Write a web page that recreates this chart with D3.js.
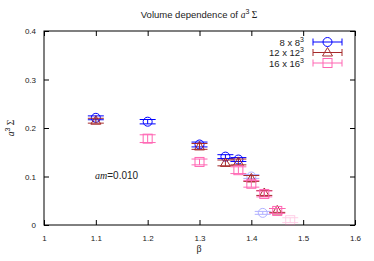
<!DOCTYPE html>
<html><head><meta charset="utf-8">
<script src="https://cdn.jsdelivr.net/npm/d3@7"></script>
<style>body{margin:0;background:#fff}svg{font-family:"Liberation Sans",Arial,sans-serif}</style>
</head><body><svg id="c" width="374" height="261"></svg>
<script>
const xTicks = [1, 1.1, 1.2, 1.3, 1.4, 1.5, 1.6];
const yTicks = [0, 0.1, 0.2, 0.3, 0.4];
const seriesNames = ["8 x 8", "12 x 12", "16 x 16"];
const seriesColors = ["#0000ff", "#a52a2a", "#ff66b3"];
const seriesShapes = ["circle", "triangle", "square"];
// 8x8^3
const beta8 = [1.1, 1.2, 1.3, 1.35, 1.375, 1.4, 1.422];
const val8  = [0.221, 0.213, 0.166, 0.141, 0.135, 0.100, 0.025];
const err8  = [0.004, 0.0045, 0.005, 0.004, 0.004, 0.004, 0.003];
const faint8 = [0, 0, 0, 0, 0, 1, 1];
// 12x12^3
const beta12 = [1.1, 1.3, 1.35, 1.375, 1.4, 1.425, 1.45];
const val12  = [0.215, 0.162, 0.128, 0.130, 0.096, 0.066, 0.030];
const err12  = [0.005, 0.006, 0.006, 0.006, 0.006, 0.005, 0.004];
const faint12 = [0, 0, 0, 0, 0, 0, 0];
// 16x16^3
const beta16 = [1.2, 1.3, 1.375, 1.4, 1.425, 1.45, 1.475];
const val16  = [0.178, 0.130, 0.113, 0.085, 0.064, 0.029, 0.010];
const err16  = [0.008, 0.006, 0.007, 0.007, 0.006, 0.005, 0.005];
const faint16 = [0, 0, 0, 0, 0, 0, 1];

const series = [
  {b: beta8, v: val8, e: err8, f: faint8},
  {b: beta12, v: val12, e: err12, f: faint12},
  {b: beta16, v: val16, e: err16, f: faint16}
];

const svg = d3.select("#c");
const L = 44, R = 355, T = 31, B = 225;
const x = d3.scaleLinear().domain([1, 1.6]).range([L, R]);
const y = d3.scaleLinear().domain([0, 0.4]).range([B, T]);

svg.append("rect").attr("x", L).attr("y", T).attr("width", R - L).attr("height", B - T)
  .attr("fill", "none").attr("stroke", "#000").attr("stroke-width", 1);

const gx = svg.append("g").attr("transform", `translate(0,${B})`)
  .call(d3.axisBottom(x).tickValues(xTicks).tickSize(-5).tickPadding(10).tickFormat(d3.format("")));
const gxt = svg.append("g").attr("transform", `translate(0,${T})`)
  .call(d3.axisTop(x).tickValues(xTicks).tickSize(-5).tickFormat(""));
const gy = svg.append("g").attr("transform", `translate(${L},0)`)
  .call(d3.axisLeft(y).tickValues(yTicks).tickSize(-5).tickPadding(8).tickFormat(d => d === 0 ? "0" : d3.format(".1f")(d)));
const gyr = svg.append("g").attr("transform", `translate(${R},0)`)
  .call(d3.axisRight(y).tickValues(yTicks).tickSize(-5).tickFormat(""));
[gx, gxt, gy, gyr].forEach(g => {
  g.select(".domain").remove();
  g.selectAll("text").attr("font-size", 8).attr("fill", "#222").attr("font-family", "Liberation Sans, Arial, sans-serif");
  g.selectAll("line").attr("stroke", "#000");
});

function marker(g, shape, cx, cy, color) {
  if (shape === "circle") {
    g.append("circle").attr("cx", cx).attr("cy", cy).attr("r", 4.5).attr("fill", "none").attr("stroke", color);
  } else if (shape === "triangle") {
    const h = 5;
    g.append("path").attr("d", `M${cx},${cy - h}L${cx + h},${cy + h * 0.7}L${cx - h},${cy + h * 0.7}Z`)
      .attr("fill", "none").attr("stroke", color);
  } else {
    g.append("rect").attr("x", cx - 4.5).attr("y", cy - 4.5).attr("width", 9).attr("height", 9)
      .attr("fill", "none").attr("stroke", color);
  }
}

const plot = svg.append("g");
series.forEach((s, i) => {
  const col = seriesColors[i];
  s.b.forEach((b, j) => {
    const g = plot.append("g").attr("opacity", s.f[j] ? 0.3 : 1).attr("stroke-width", 1);
    const cx = x(b), y0 = y(s.v[j] - s.e[j]), y1 = y(s.v[j] + s.e[j]);
    g.append("line").attr("x1", cx).attr("x2", cx).attr("y1", y0).attr("y2", y1).attr("stroke", col);
    [y0, y1].forEach(yy => g.append("line").attr("x1", cx - 8).attr("x2", cx + 8).attr("y1", yy).attr("y2", yy).attr("stroke", col));
    marker(g, seriesShapes[i], cx, y(s.v[j]), col);
  });
});

const legY = [42, 52.5, 63];
seriesNames.forEach((n, i) => {
  const t = svg.append("text").attr("x", 304).attr("y", legY[i] + 3.5).attr("text-anchor", "end")
    .attr("font-size", 9.5).attr("fill", "#222");
  t.append("tspan").text(n);
  t.append("tspan").text("3").attr("font-size", 7).attr("dy", -4);
  const col = seriesColors[i];
  const g = svg.append("g");
  g.append("line").attr("x1", 313).attr("x2", 342).attr("y1", legY[i]).attr("y2", legY[i]).attr("stroke", col);
  [313, 342].forEach(xx => g.append("line").attr("x1", xx).attr("x2", xx).attr("y1", legY[i] - 3.5).attr("y2", legY[i] + 3.5).attr("stroke", col));
  marker(g, seriesShapes[i], 327.5, legY[i], col);
});

const title = svg.append("text").attr("x", 199).attr("y", 18).attr("text-anchor", "middle").attr("font-size", 9.5).attr("fill", "#222");
title.append("tspan").text("Volume dependence of ");
title.append("tspan").text("a").attr("font-style", "italic").attr("font-family", "Liberation Serif, serif");
title.append("tspan").text("3").attr("font-size", 7).attr("dy", -4);
title.append("tspan").text(" Σ").attr("dy", 4).attr("font-family", "Liberation Serif, serif");

const yl = svg.append("text").attr("transform", "translate(14,128) rotate(-90)").attr("text-anchor", "middle")
  .attr("font-size", 9.5).attr("fill", "#222");
yl.append("tspan").text("a").attr("font-style", "italic").attr("font-family", "Liberation Serif, serif");
yl.append("tspan").text("3").attr("font-size", 7).attr("dy", -4);
yl.append("tspan").text(" Σ").attr("dy", 4).attr("font-family", "Liberation Serif, serif");

svg.append("text").attr("x", 199).attr("y", 252).attr("text-anchor", "middle").attr("font-size", 10)
  .attr("fill", "#222").attr("font-family", "Liberation Serif, serif").text("β");

const an = svg.append("text").attr("x", 95).attr("y", 179).attr("font-size", 10).attr("fill", "#222");
an.append("tspan").text("am").attr("font-style", "italic").attr("font-family", "Liberation Serif, serif");
an.append("tspan").text("=0.010");
</script></body></html>
